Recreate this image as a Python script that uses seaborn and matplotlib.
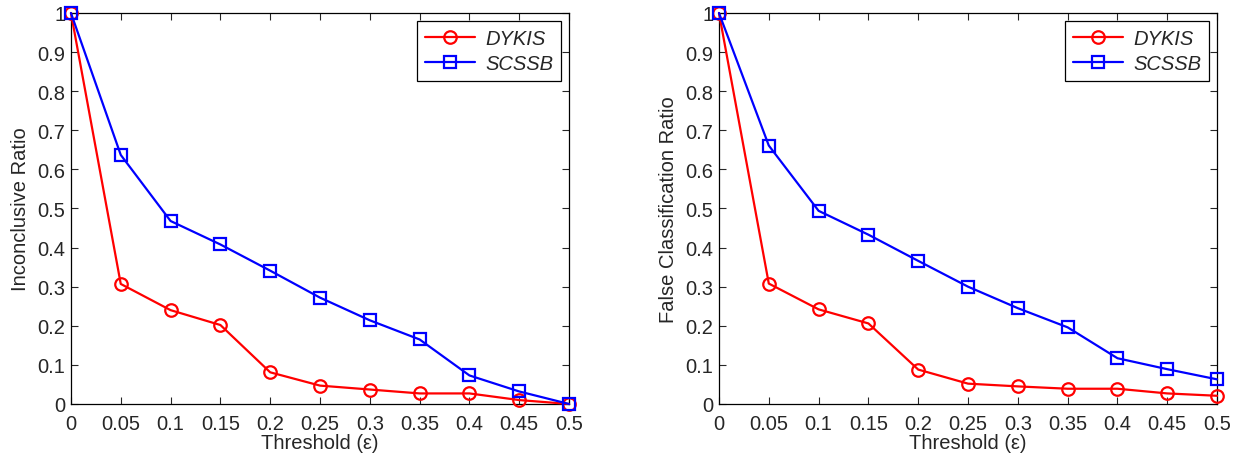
import matplotlib
matplotlib.use("Agg")
import matplotlib.pyplot as plt
import seaborn as sns

# ---------------------------------------------------------
# Data
# ---------------------------------------------------------

thresholds = [0, 0.05, 0.1, 0.15, 0.2, 0.25, 0.3, 0.35, 0.4, 0.45, 0.5]

inconclusive_dykis = [1.0, 0.307, 0.240, 0.202, 0.081, 0.047, 0.037, 0.027, 0.027, 0.010, 0.0]
inconclusive_scssb = [1.0, 0.637, 0.468, 0.408, 0.341, 0.272, 0.214, 0.165, 0.073, 0.032, 0.0]

false_dykis = [1.0, 0.308, 0.242, 0.206, 0.088, 0.052, 0.045, 0.039, 0.039, 0.027, 0.021]
false_scssb = [1.0, 0.661, 0.494, 0.433, 0.366, 0.300, 0.245, 0.196, 0.117, 0.089, 0.063]

x_ticks = [0, 0.05, 0.1, 0.15, 0.2, 0.25, 0.3, 0.35, 0.4, 0.45, 0.5]
x_tick_labels = ["0", "0.05", "0.1", "0.15", "0.2", "0.25", "0.3", "0.35", "0.4", "0.45", "0.5"]
y_ticks = [0, 0.1, 0.2, 0.3, 0.4, 0.5, 0.6, 0.7, 0.8, 0.9, 1.0]
y_tick_labels = ["0", "0.1", "0.2", "0.3", "0.4", "0.5", "0.6", "0.7", "0.8", "0.9", "1"]

# ---------------------------------------------------------
# Style
# ---------------------------------------------------------

sns.set_style("ticks")
plt.rcParams["font.family"] = ["Liberation Sans", "DejaVu Sans"]
plt.rcParams["font.size"] = 14.5

fig = plt.figure(figsize=(12.36, 4.6), dpi=100)
ax_left = fig.add_axes([0.0574, 0.1196, 0.403, 0.85])
ax_right = fig.add_axes([0.5817, 0.1196, 0.403, 0.85])

panels = [
    (ax_left, inconclusive_dykis, inconclusive_scssb, "Inconclusive Ratio"),
    (ax_right, false_dykis, false_scssb, "False Classification Ratio"),
]

for ax, dykis, scssb, ylabel in panels:
    sns.lineplot(
        x=thresholds, y=dykis, ax=ax,
        color="#ff0000", marker="o", markersize=9,
        markerfacecolor="none", markeredgecolor="#ff0000",
        markeredgewidth=1.6, linewidth=1.6, label="DYKIS",
        clip_on=False, zorder=3,
    )
    sns.lineplot(
        x=thresholds, y=scssb, ax=ax,
        color="#0000ff", marker="s", markersize=8,
        markerfacecolor="none", markeredgecolor="#0000ff",
        markeredgewidth=1.6, linewidth=1.6, label="SCSSB",
        clip_on=False, zorder=4,
    )

    ax.set_xlim(0, 0.5)
    ax.set_ylim(0, 1)
    ax.set_xticks(x_ticks)
    ax.set_xticklabels(x_tick_labels)
    ax.set_yticks(y_ticks)
    ax.set_yticklabels(y_tick_labels)
    ax.tick_params(direction="in", top=True, right=True, length=5,
                   width=0.8, labelsize=14.5)
    ax.tick_params(axis="x", pad=7)
    ax.tick_params(axis="y", pad=4)
    for spine in ax.spines.values():
        spine.set_visible(True)
        spine.set_linewidth(0.9)
        spine.set_color("black")

    ax.set_xlabel("Threshold (ε)", fontsize=14.5, labelpad=0)
    ax.set_ylabel(ylabel, fontsize=14.5, labelpad=5)

    leg = ax.legend(
        loc="upper right", fancybox=False, framealpha=1,
        edgecolor="black", prop={"style": "italic", "size": 14.5},
        handlelength=2.5, borderpad=0.4, labelspacing=0.3,
        handletextpad=0.5, borderaxespad=0,
        bbox_to_anchor=(0.984, 0.979),
    )
    leg.get_frame().set_linewidth(0.9)

fig.savefig("out.png", dpi=100)
plt.close(fig)
